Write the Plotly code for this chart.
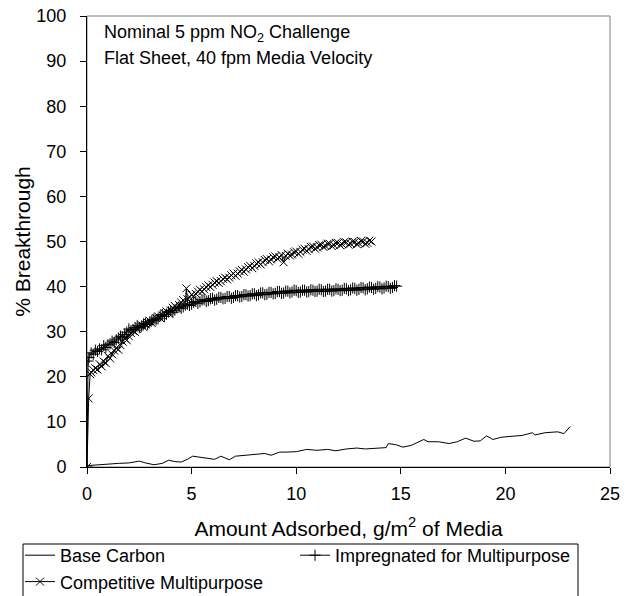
import plotly.graph_objects as go

# ---------------- data ----------------
series_names = ["Base Carbon", "Impregnated for Multipurpose", "Competitive Multipurpose"]
x_ticks = [0, 5, 10, 15, 20, 25]
y_ticks = [0, 10, 20, 30, 40, 50, 60, 70, 80, 90, 100]

base_x = [0, 0.5, 1.0, 1.5, 2.0, 2.5, 2.8, 3.2, 3.6, 3.9, 4.2, 4.5, 4.8, 5.05, 5.5, 6.1, 6.4,
          6.8, 7.1, 7.6, 8.0, 8.5, 8.8, 9.2, 9.5, 10.0, 10.5, 11.0, 11.5, 11.9, 12.4, 12.9,
          13.3, 13.8, 14.3, 14.4, 14.8, 15.1, 15.5, 16.1, 16.3, 16.8, 17.3, 17.7, 18.1, 18.5,
          18.8, 19.1, 19.4, 19.8, 20.4, 20.8, 21.3, 21.4, 21.9, 22.5, 22.8, 23.1]
base_y = [0.3, 0.5, 0.7, 0.8, 0.9, 1.3, 0.9, 0.5, 0.8, 1.5, 1.2, 1.1, 1.7, 2.4, 2.1, 1.7, 2.4,
          1.6, 2.4, 2.6, 2.7, 3.0, 2.6, 3.3, 3.3, 3.4, 3.9, 3.7, 3.9, 3.6, 4.0, 4.2,
          4.0, 4.1, 4.3, 5.2, 4.9, 4.4, 4.8, 6.1, 5.6, 5.6, 5.2, 5.6, 6.4, 5.7,
          5.8, 6.9, 6.1, 6.6, 6.8, 7.0, 7.6, 7.1, 7.6, 7.8, 7.4, 9.0]

imp_x = [0, 0.05, 0.1,
         0.2, 0.3, 0.4, 0.5, 0.6, 0.7, 0.8, 0.9, 1.0, 1.1,
         1.2, 1.3, 1.4, 1.5, 1.6, 1.7, 1.8, 1.9, 2.0, 2.1,
         2.2, 2.3, 2.4, 2.5, 2.6, 2.7, 2.8, 2.9, 3.0, 3.1,
         3.2, 3.3, 3.4, 3.5, 3.6, 3.7, 3.8, 3.9, 4.0, 4.1,
         4.2, 4.3, 4.4, 4.5, 4.6, 4.7, 4.8, 4.9, 5.0, 5.1,
         5.2, 5.3, 5.4, 5.5, 5.6, 5.7, 5.8, 5.9, 6.0, 6.1,
         6.2, 6.3, 6.4, 6.5, 6.6, 6.7, 6.8, 6.9, 7.0, 7.1,
         7.2, 7.3, 7.4, 7.5, 7.6, 7.7, 7.8, 7.9, 8.0, 8.1,
         8.2, 8.3, 8.4, 8.5, 8.6, 8.7, 8.8, 8.9, 9.0, 9.1,
         9.2, 9.3, 9.4, 9.5, 9.6, 9.7, 9.8, 9.9, 10.0, 10.1,
         10.2, 10.3, 10.4, 10.5, 10.6, 10.7, 10.8, 10.9, 11.0, 11.1,
         11.2, 11.3, 11.4, 11.5, 11.6, 11.7, 11.8, 11.9, 12.0, 12.1,
         12.2, 12.3, 12.4, 12.5, 12.6, 12.7, 12.8, 12.9, 13.0, 13.1,
         13.2, 13.3, 13.4, 13.5, 13.6, 13.7, 13.8, 13.9, 14.0, 14.1,
         14.2, 14.3, 14.4, 14.5, 14.6, 14.7, 14.8]
imp_y = [0, 23.5, 24.3,
         25.3, 25.0, 25.9, 25.6, 26.2, 26.0, 26.9, 26.5, 27.1, 27.3,
         27.9, 27.6, 28.2, 28.6, 29.0, 28.8, 29.4, 29.9, 30.6, 30.2,
         30.5, 30.9, 31.3, 30.9, 31.2, 31.7, 31.9, 31.6, 32.1, 32.5,
         32.8, 32.6, 33.0, 33.5, 33.8, 33.4, 33.9, 34.4, 34.7, 34.3,
         34.8, 35.3, 35.5, 35.2, 35.5, 35.9, 36.1, 35.8, 36.1, 36.5,
         36.7, 36.3, 36.6, 37.0, 37.1, 36.7, 36.9, 37.3, 37.4, 37.0,
         37.2, 37.6, 37.6, 37.3, 37.4, 37.8, 37.8, 37.4, 37.6, 38.0,
         38.0, 37.7, 37.8, 38.2, 38.2, 37.9, 38.0, 38.4, 38.4, 38.0,
         38.2, 38.6, 38.6, 38.2, 38.3, 38.7, 38.7, 38.4, 38.5, 38.9,
         38.9, 38.5, 38.6, 39.0, 39.0, 38.6, 38.8, 39.2, 39.1, 38.7,
         38.8, 39.2, 39.2, 38.8, 38.9, 39.3, 39.2, 38.9, 39.0, 39.4,
         39.3, 38.9, 39.0, 39.4, 39.4, 39.0, 39.1, 39.5, 39.4, 39.1,
         39.2, 39.6, 39.5, 39.1, 39.3, 39.7, 39.6, 39.2, 39.4, 39.8,
         39.7, 39.3, 39.5, 39.9, 39.8, 39.4, 39.6, 40.0, 39.9, 39.5,
         39.7, 40.1, 40.0, 39.6, 39.8, 40.2, 40.1]

comp_x = [0, 0.08, 0.15,
          0.2, 0.3, 0.4, 0.5, 0.6, 0.7, 0.8, 0.9, 1.0, 1.1,
          1.2, 1.3, 1.4, 1.5, 1.6, 1.7, 1.8, 1.9, 2.0, 2.1,
          2.2, 2.3, 2.4, 2.5, 2.6, 2.7, 2.8, 2.9, 3.0, 3.1,
          3.2, 3.3, 3.4, 3.5, 3.6, 3.7, 3.8, 3.9, 4.0, 4.1,
          4.2, 4.3, 4.4, 4.5, 4.6, 4.7, 4.75, 4.8, 4.9, 5.0, 5.1,
          5.2, 5.3, 5.4, 5.5, 5.6, 5.7, 5.8, 5.9, 6.0, 6.1,
          6.2, 6.3, 6.4, 6.5, 6.6, 6.7, 6.8, 6.9, 7.0, 7.1,
          7.2, 7.3, 7.4, 7.5, 7.6, 7.7, 7.8, 7.9, 8.0, 8.1,
          8.2, 8.3, 8.4, 8.5, 8.6, 8.7, 8.8, 8.9, 9.0, 9.1,
          9.2, 9.3, 9.4, 9.5, 9.6, 9.7, 9.8, 9.9, 10.0, 10.1,
          10.2, 10.3, 10.4, 10.5, 10.6, 10.7, 10.8, 10.9, 11.0, 11.1,
          11.2, 11.3, 11.4, 11.5, 11.6, 11.7, 11.8, 11.9, 12.0, 12.1,
          12.2, 12.3, 12.4, 12.5, 12.6, 12.7, 12.8, 12.9, 13.0, 13.1,
          13.2, 13.3, 13.4, 13.5, 13.6]
comp_y = [0, 15.2, 20.6,
          21.0, 21.5, 21.9, 21.6, 22.8, 22.3, 23.4, 23.0, 24.6, 24.1,
          25.0, 25.8, 26.4, 26.0, 27.0, 27.8, 28.5, 28.1, 29.0, 29.7,
          30.2, 29.9, 30.6, 31.1, 31.5, 31.0, 31.6, 32.0, 32.4, 31.9,
          32.5, 33.0, 33.4, 33.0, 33.6, 34.1, 34.5, 34.1, 34.7, 35.3,
          35.7, 35.2, 35.9, 36.5, 37.0, 36.5, 39.6, 37.2, 37.7, 38.2, 37.8,
          38.4, 38.9, 39.3, 38.9, 39.4, 39.9, 40.3, 39.9, 40.4, 40.9,
          41.2, 40.8, 41.2, 41.7, 42.0, 41.6, 42.0, 42.5, 42.9, 42.4,
          42.9, 43.4, 43.7, 43.3, 43.8, 44.3, 44.6, 44.1, 44.6, 45.1,
          45.4, 44.9, 45.4, 45.9, 46.1, 45.6, 46.0, 46.5, 46.7, 46.2,
          46.5, 47.0, 45.4, 46.8, 47.3, 46.9, 47.1, 47.6, 47.8, 47.3,
          47.7, 48.2, 48.4, 47.9, 48.3, 48.8, 48.9, 48.4, 48.7, 49.2,
          49.3, 48.8, 49.0, 49.5, 49.5, 49.0, 49.2, 49.7, 49.7, 49.2,
          49.4, 49.9, 49.8, 49.3, 49.5, 50.0, 49.9, 49.4, 49.6, 50.1,
          50.0, 49.5, 49.7, 50.2, 50.0]

FONT = "Liberation Sans, Arial, sans-serif"

# plot-area geometry in pixels (used only to place legend / frame in paper units)
W, H = 631, 596
ML, MR, MT, MB = 87, 21, 16, 129
PW, PH = W - ML - MR, H - MT - MB


def px_x(px):
    return (px - ML) / PW


def px_y(py):
    return (H - MB - py) / PH


fig = go.Figure()
fig.add_trace(go.Scatter(x=base_x, y=base_y, mode="lines", name=series_names[0],
                         line=dict(color="black", width=1)))
fig.add_trace(go.Scatter(x=imp_x, y=imp_y, mode="lines+markers", name=series_names[1],
                         line=dict(color="black", width=1),
                         marker=dict(symbol="cross-thin", size=8, color="black",
                                     line=dict(color="black", width=1))))
fig.add_trace(go.Scatter(x=comp_x, y=comp_y, mode="lines+markers", name=series_names[2],
                         line=dict(color="black", width=1),
                         marker=dict(symbol="x-thin", size=8, color="black",
                                     line=dict(color="black", width=1))))

fig.update_layout(
    width=W, height=H,
    margin=dict(l=ML, r=MR, t=MT, b=MB, pad=0, autoexpand=False),
    paper_bgcolor="white", plot_bgcolor="white",
    font=dict(family=FONT, size=18, color="black"),
    showlegend=True,
    legend=dict(
        orientation="h", x=px_x(20), y=px_y(537), xanchor="left", yanchor="top",
        borderwidth=0, bgcolor="rgba(0,0,0,0)",
        font=dict(family=FONT, size=18, color="black"),
        entrywidth=230, entrywidthmode="pixels", itemwidth=30,
        traceorder="normal", tracegroupgap=0,
    ),
    xaxis=dict(
        range=[0, 25], tickvals=x_ticks, ticks="outside", ticklen=6, tickcolor="black",
        showline=True, linecolor="black", linewidth=1, showgrid=False, zeroline=False,
        tickfont=dict(size=18), ticklabelstandoff=4,
        title=dict(text="Amount Adsorbed, g/m<sup>2</sup> of Media",
                   font=dict(size=21), standoff=18),
    ),
    yaxis=dict(
        range=[0, 100], tickvals=y_ticks, ticks="outside", ticklen=6, tickcolor="black",
        showline=True, linecolor="black", linewidth=1, showgrid=False, zeroline=False,
        tickfont=dict(size=18), ticklabelstandoff=10,
        title=dict(text="% Breakthrough", font=dict(size=21), standoff=0),
    ),
)

# grey frame on top and right of the plot area
fig.add_shape(type="rect", xref="paper", yref="paper", x0=0, x1=1, y0=0, y1=1,
              line=dict(color="#808080", width=1), layer="below")
# legend frame (runs off the bottom edge as in the reference)
fig.add_shape(type="rect", xref="paper", yref="paper",
              x0=px_x(23), x1=px_x(578), y0=px_y(544), y1=px_y(620),
              line=dict(color="black", width=1), fillcolor="rgba(0,0,0,0)", layer="below")

fig.add_annotation(xref="paper", yref="paper", x=0.0293, y=0.9623, xanchor="left",
                   yanchor="middle", showarrow=False,
                   text="Nominal 5 ppm NO<sub>2</sub> Challenge", font=dict(size=18))
fig.add_annotation(xref="paper", yref="paper", x=0.0293, y=0.9068, xanchor="left",
                   yanchor="middle", showarrow=False,
                   text="Flat Sheet, 40 fpm Media Velocity", font=dict(size=18))

fig.write_html("out.html")
